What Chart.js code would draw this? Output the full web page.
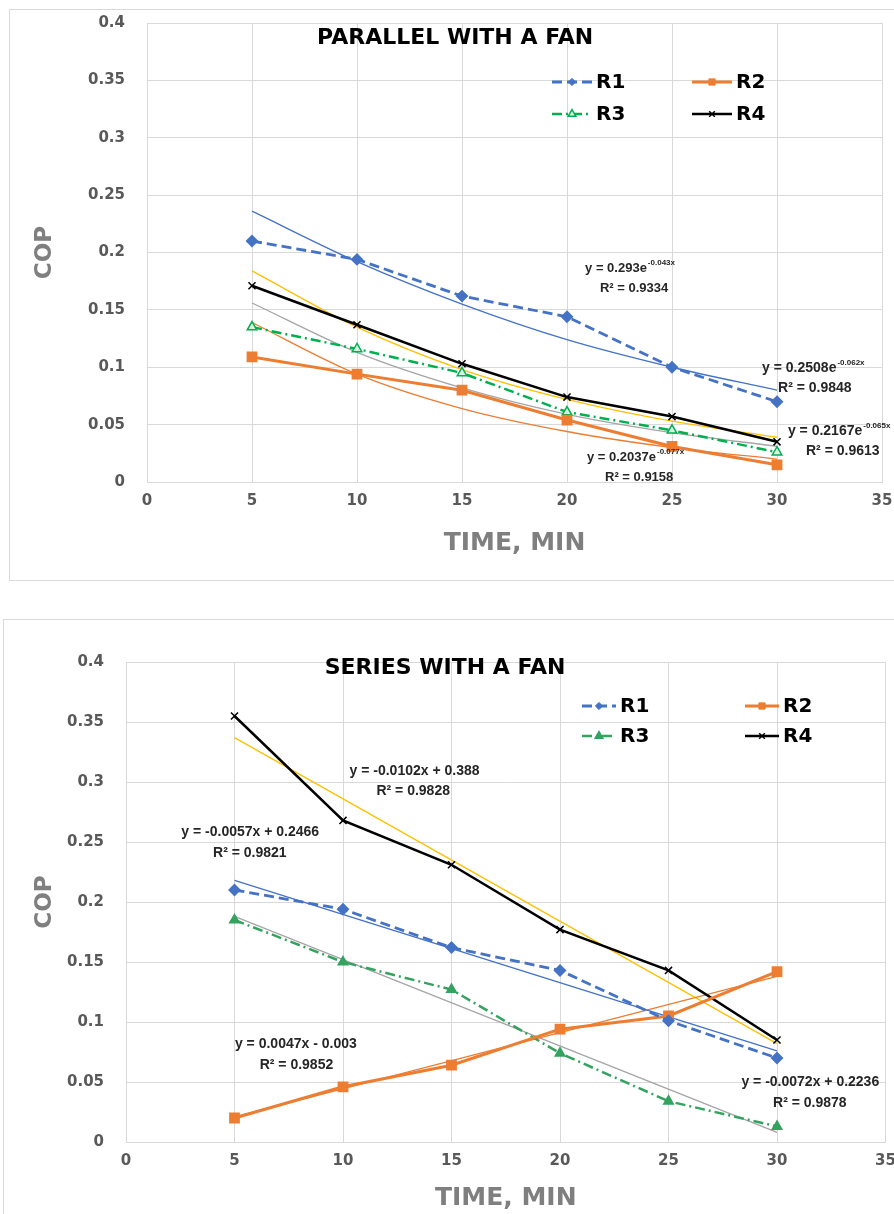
<!DOCTYPE html>
<html>
<head>
<meta charset="utf-8">
<script src="https://cdn.jsdelivr.net/npm/chart.js@4.4.1/dist/chart.umd.min.js"></script>
<style>
  body { margin: 0; background: #fff; width: 894px; height: 1214px; overflow: hidden; position: relative; }
  .panel { position: absolute; border: 1px solid #d9d9d9; box-sizing: border-box; }
  #p1 { left: 9px; top: 9px; width: 900px; height: 572px; }
  #p2 { left: 3px; top: 619px; width: 900px; height: 620px; }
  canvas { position: absolute; left: 0; }
  #c1 { top: 0; }
  #c2 { top: 600px; }
</style>
</head>
<body>
<div class="panel" id="p1"></div>
<div class="panel" id="p2"></div>
<canvas id="c1" width="894" height="600"></canvas>
<canvas id="c2" width="894" height="614"></canvas>
<script>
// DATA
const times = [5, 10, 15, 20, 25, 30];
const seriesNames = ['R1', 'R2', 'R3', 'R4'];
const xTicks = [0, 5, 10, 15, 20, 25, 30, 35];
const yTicks = [0, 0.05, 0.1, 0.15, 0.2, 0.25, 0.3, 0.35, 0.4];

// parallel with a fan
const parR1 = [0.210, 0.194, 0.162, 0.144, 0.100, 0.070];
const parR2 = [0.109, 0.094, 0.080, 0.054, 0.031, 0.015];
const parR3 = [0.135, 0.116, 0.095, 0.061, 0.045, 0.026];
const parR4 = [0.171, 0.137, 0.103, 0.074, 0.057, 0.035];
// exponential trendlines
const parTrendR1 = [0.236, 0.192, 0.155, 0.124, 0.100, 0.080];
const parTrendR2 = [0.139, 0.094, 0.064, 0.044, 0.030, 0.020];
const parTrendR3 = [0.156, 0.113, 0.082, 0.059, 0.043, 0.031];
const parTrendR4 = [0.184, 0.135, 0.098, 0.072, 0.053, 0.039];
const parEquations = ['y = 0.293e', 'y = 0.2037e', 'y = 0.2167e', 'y = 0.2508e'];
const parExponents = ['-0.043x', '-0.077x', '-0.065x', '-0.062x'];
const parR2Labels = ['R² = 0.9334', 'R² = 0.9158', 'R² = 0.9613', 'R² = 0.9848'];

// series with a fan
const serR1 = [0.210, 0.194, 0.162, 0.143, 0.101, 0.070];
const serR2 = [0.020, 0.046, 0.064, 0.094, 0.105, 0.142];
const serR3 = [0.185, 0.150, 0.127, 0.074, 0.034, 0.013];
const serR4 = [0.355, 0.268, 0.231, 0.177, 0.143, 0.085];
// linear trendlines, end points
const serTrendX = [5, 30];
const serTrendR1 = [0.218, 0.076];
const serTrendR2 = [0.021, 0.138];
const serTrendR3 = [0.188, 0.008];
const serTrendR4 = [0.337, 0.082];
const serEquations = ['y = -0.0057x + 0.2466', 'y = 0.0047x - 0.003', 'y = -0.0072x + 0.2236', 'y = -0.0102x + 0.388'];
const serR2Labels = ['R² = 0.9821', 'R² = 0.9852', 'R² = 0.9878', 'R² = 0.9828'];

// STYLES
const FONT = 'DejaVu Sans';
const EQFONT = '"Liberation Sans", Arial, sans-serif';
const trendColors = ['#4472c4', '#ed7d31', '#a5a5a5', '#ffc000'];

function seriesStyles(green, triFill) {
  return [
    { borderColor: '#4472c4', backgroundColor: '#4472c4', borderDash: [10, 5], borderWidth: 2.8, pointStyle: 'rectRot', pointRadius: 4.5 },
    { borderColor: '#ed7d31', backgroundColor: '#ed7d31', borderDash: [], borderWidth: 3, pointStyle: 'rect', pointRadius: 5.5 },
    { borderColor: green, backgroundColor: triFill, borderDash: [10, 4, 2, 4], borderWidth: 2.5, pointStyle: 'triangle', pointRadius: 5.5, pointBorderWidth: 1.5 },
    { borderColor: '#000000', backgroundColor: '#000000', borderDash: [], borderWidth: 2.5, pointStyle: 'crossRot', pointRadius: 5, pointBorderWidth: 1.5 }
  ];
}

function pts(xs, ys) {
  return xs.map((v, i) => ({ x: v, y: ys[i] }));
}

// draws the chart title, trendline equations and the 2x2 legend
const annotate = {
  id: 'annotate',
  afterDatasetsDraw(chart, args, o) {
    const { ctx } = chart;
    const xs = chart.scales.x, ys = chart.scales.y;
    ctx.save();
    ctx.textBaseline = 'middle';
    // title
    ctx.fillStyle = '#000';
    ctx.font = 'bold 22px ' + FONT;
    ctx.textAlign = 'center';
    ctx.fillText(o.title.text, xs.getPixelForValue(o.title.x), ys.getPixelForValue(o.title.y));
    // equations
    ctx.textAlign = 'left';
    o.texts.forEach(t => {
      const px = xs.getPixelForValue(t.x), py = ys.getPixelForValue(t.y);
      ctx.font = 'bold ' + (t.size || 13) + 'px ' + EQFONT;
      ctx.fillStyle = '#262626';
      ctx.fillText(t.text, px, py);
      if (t.sup) {
        const w = ctx.measureText(t.text).width;
        ctx.font = 'bold 8px ' + EQFONT;
        ctx.fillText(t.sup, px + w + 1, py - 5);
      }
    });
    // legend
    const lg = o.legend;
    chart.data.datasets.slice(0, 4).forEach((ds, i) => {
      const col = i % 2, row = Math.floor(i / 2);
      const x0 = lg.cols[col], x1 = x0 + lg.lineLen, yy = lg.rows[row];
      ctx.strokeStyle = ds.borderColor;
      ctx.lineWidth = ds.borderWidth;
      ctx.setLineDash(ds.borderDash);
      ctx.beginPath();
      ctx.moveTo(x0, yy);
      ctx.lineTo(x1, yy);
      ctx.stroke();
      ctx.setLineDash([]);
      ctx.fillStyle = ds.backgroundColor;
      ctx.lineWidth = ds.pointBorderWidth || 1;
      Chart.helpers.drawPoint(ctx, { pointStyle: ds.pointStyle, radius: ds.pointRadius * 0.8, rotation: 0, borderWidth: ds.pointBorderWidth || 1 }, (x0 + x1) / 2, yy);
      ctx.fillStyle = '#000';
      ctx.font = 'bold 20px ' + FONT;
      ctx.fillText(ds.label, x1 + 4, yy + 1);
    });
    ctx.restore();
  }
};

function makeChart(id, c) {
  const styles = seriesStyles(c.green, c.triFill);
  const datasets = [];
  c.series.forEach((vals, i) => {
    datasets.push(Object.assign({ label: seriesNames[i], data: pts(times, vals), fill: false, order: 1 }, styles[i]));
  });
  c.trends.forEach((vals, i) => {
    datasets.push({
      label: 'trend ' + seriesNames[i], data: pts(c.trendX, vals), borderColor: trendColors[i],
      borderWidth: 1.3, pointRadius: 0, fill: false, cubicInterpolationMode: 'monotone', order: 2
    });
  });
  return new Chart(document.getElementById(id), {
    type: 'line',
    data: { datasets: datasets },
    plugins: [annotate],
    options: {
      responsive: false,
      animation: false,
      devicePixelRatio: 1,
      layout: { padding: { left: 0, top: c.area.top, right: c.area.right, bottom: 0 } },
      plugins: {
        legend: { display: false },
        tooltip: { enabled: false },
        annotate: { title: c.title, texts: c.texts, legend: c.legend }
      },
      scales: {
        x: {
          type: 'linear', min: 0, max: 35,
          afterBuildTicks: s => { s.ticks = xTicks.map(v => ({ value: v })); },
          afterFit: s => { s.height = c.area.xHeight; s.paddingLeft = 0; s.paddingRight = 0; },
          grid: { color: '#d9d9d9', drawTicks: false },
          border: { color: '#d9d9d9' },
          ticks: { padding: 10, color: '#595959', font: { family: FONT, size: 15, weight: 'bold' }, maxRotation: 0 },
          title: { display: true, text: 'TIME, MIN', color: '#7f7f7f', font: { family: FONT, size: 25, weight: 'bold', lineHeight: 1 }, padding: { top: c.area.xTitlePad, bottom: c.area.xTitlePad } }
        },
        y: {
          min: 0, max: 0.4,
          afterBuildTicks: s => { s.ticks = yTicks.map(v => ({ value: v })); },
          afterFit: s => { s.width = c.area.left; s.paddingTop = 0; s.paddingBottom = 0; },
          grid: { color: '#d9d9d9', drawTicks: false },
          border: { color: '#d9d9d9' },
          ticks: { padding: 22, color: '#595959', font: { family: FONT, size: 15, weight: 'bold' }, callback: v => String(+v.toFixed(2)) },
          title: { display: true, text: 'COP', color: '#7f7f7f', font: { family: FONT, size: 23, weight: 'bold', lineHeight: 1 }, padding: { top: 34, bottom: 34 } }
        }
      }
    }
  });
}

makeChart('c1', {
  series: [parR1, parR2, parR3, parR4],
  trends: [parTrendR1, parTrendR2, parTrendR3, parTrendR4],
  trendX: times,
  green: '#00b050',
  triFill: '#d9f2e1',
  area: { left: 147, top: 23, right: 12, xHeight: 118, xTitlePad: 44 },
  title: { text: 'PARALLEL WITH A FAN', x: 14.67, y: 0.387 },
  legend: { cols: [552, 692], rows: [82, 114], lineLen: 40 },
  texts: [
    { text: parEquations[0], sup: parExponents[0], x: 20.86, y: 0.1865 },
    { text: parR2Labels[0], x: 21.57, y: 0.169 },
    { text: parEquations[3], sup: parExponents[3], x: 29.29, y: 0.0993, size: 14 },
    { text: parR2Labels[3], x: 30.05, y: 0.082, size: 14 },
    { text: parEquations[2], sup: parExponents[2], x: 30.52, y: 0.0444, size: 14 },
    { text: parR2Labels[2], x: 31.38, y: 0.027, size: 14 },
    { text: parEquations[1], sup: parExponents[1], x: 20.95, y: 0.0218 },
    { text: parR2Labels[1], x: 21.81, y: 0.0044 }
  ]
});

makeChart('c2', {
  series: [serR1, serR2, serR3, serR4],
  trends: [serTrendR1, serTrendR2, serTrendR3, serTrendR4],
  trendX: serTrendX,
  green: '#33a35f',
  triFill: '#33a35f',
  area: { left: 126, top: 62, right: 1, xHeight: 72, xTitlePad: 3 },
  title: { text: 'SERIES WITH A FAN', x: 14.7, y: 0.395 },
  legend: { cols: [582, 745], rows: [106, 136], lineLen: 34 },
  texts: [
    { text: serEquations[3], x: 10.3, y: 0.309, size: 14 },
    { text: serR2Labels[3], x: 11.54, y: 0.2925, size: 14 },
    { text: serEquations[0], x: 2.55, y: 0.258, size: 14 },
    { text: serR2Labels[0], x: 4.01, y: 0.241, size: 14 },
    { text: serEquations[1], x: 5.02, y: 0.0817, size: 14 },
    { text: serR2Labels[1], x: 6.16, y: 0.064, size: 14 },
    { text: serEquations[2], x: 28.36, y: 0.05, size: 14 },
    { text: serR2Labels[2], x: 29.82, y: 0.0325, size: 14 }
  ]
});
</script>
</body>
</html>
